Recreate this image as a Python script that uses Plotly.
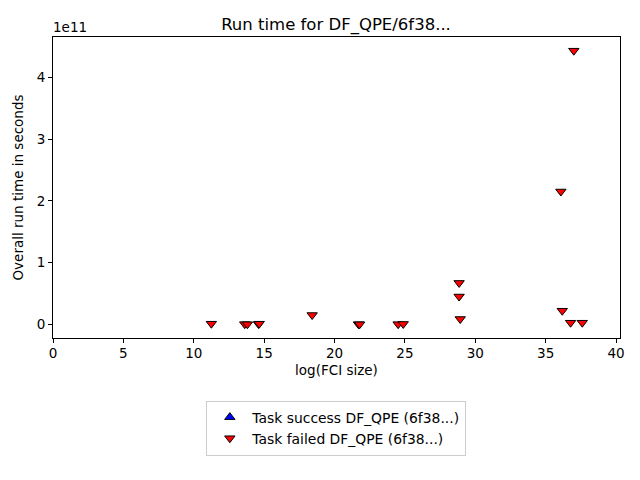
import plotly.graph_objects as go

# log(FCI size) and run time (seconds) for the failed tasks
failed_x = [11.25, 13.62, 13.81, 14.6, 14.65, 18.41, 21.7, 21.78, 24.52, 24.88,
            28.85, 28.85, 28.93, 36.08, 36.18, 36.77, 37.0, 37.6]
failed_y = [1.0e9, 3e8, 2e8, 5e8, 1.0e9, 1.5e10, 2e8, 5e7, 3e8, 6e8,
            6.7e10, 4.5e10, 8.6e9, 2.15e11, 2.2e10, 2.6e9, 4.43e11, 2.6e9]

# no successful tasks in this run
success_x = []
success_y = []

y_ticks = [0, 1e11, 2e11, 3e11, 4e11]
y_tick_text = ["0", "1", "2", "3", "4"]

fig = go.Figure()

fig.add_trace(go.Scatter(
    x=success_x if success_x else [None], y=success_y if success_y else [None],
    mode="markers", name="Task success DF_QPE (6f38...)",
    marker=dict(symbol="triangle-up", size=9, color="blue",
                line=dict(color="black", width=1))))

fig.add_trace(go.Scatter(
    x=failed_x, y=failed_y, mode="markers", name="Task failed DF_QPE (6f38...)",
    marker=dict(symbol="triangle-down", size=9, color="red",
                line=dict(color="black", width=1))))

axis_style = dict(showline=True, linecolor="black", linewidth=1, mirror=True,
                  ticks="outside", ticklen=4, tickcolor="black", showgrid=False,
                  zeroline=False, automargin=False,
                  tickfont=dict(size=13.5, color="black"))

fig.update_xaxes(range=[0, 40.28], tickvals=[0, 5, 10, 15, 20, 25, 30, 35, 40],
                 ticklabelstandoff=-1,
                 title=dict(text="log(FCI size)", font=dict(size=13.5, color="black"),
                            standoff=5),
                 **axis_style)
fig.update_yaxes(range=[-0.2215e11, 4.6515e11], tickvals=y_ticks, ticktext=y_tick_text,
                 title=dict(text="Overall run time in seconds",
                            font=dict(size=13.5, color="black"), standoff=9),
                 **axis_style)

fig.add_annotation(text="1e11", xref="paper", yref="paper", x=0, y=1.0,
                   xanchor="left", yanchor="bottom", showarrow=False,
                   xshift=-2, yshift=0,
                   font=dict(size=13.5, color="black"))

# the page adds an 8px body margin, so the figure is 8px smaller each way
fig.update_layout(
    width=632, height=472,
    title=dict(text="Run time for DF_QPE/6f38...", x=0.519, xanchor="center",
               y=0.966, yanchor="middle", font=dict(size=16.5, color="black")),
    font=dict(family="DejaVu Sans"),
    plot_bgcolor="white", paper_bgcolor="white",
    margin=dict(l=45, r=20, t=29, b=142),
    legend=dict(x=0.4997, y=-0.208, xanchor="center", yanchor="top",
                bordercolor="#cccccc", borderwidth=1, itemwidth=35,
                font=dict(size=13.9, color="black")),
)

fig.write_html("out.html")
